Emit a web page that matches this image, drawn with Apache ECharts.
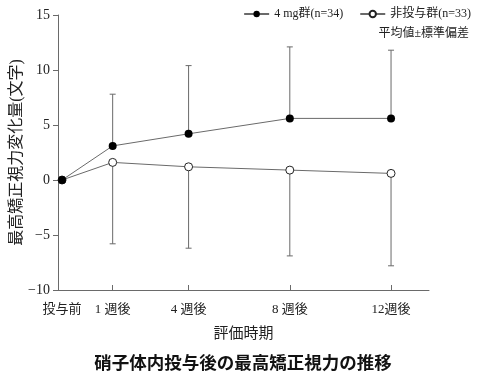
<!DOCTYPE html>
<html><head><meta charset="utf-8">
<script src="https://cdn.jsdelivr.net/npm/echarts@6/dist/echarts.min.js"></script>
<style>html,body{margin:0;padding:0;background:#fff}#c{width:486px;height:374px}</style>
</head><body><div id="c"></div>
<script>
const weeks = [-1, 1, 4, 8, 12];
const weekLabels = ['投与前', '1 週後', '4 週後', '8 週後', '12週後'];
const drugMean = [0, 3.1, 4.2, 5.6, 5.6];
const drugSD = [0, 4.7, 6.2, 6.5, 6.2];
const ctrlMean = [0, 1.6, 1.2, 0.9, 0.6];
const ctrlSD = [0, 7.4, 7.4, 7.8, 8.4];
const yTicks = [-10, -5, 0, 5, 10, 15];
const drugName = '4 mg群(n=34)';
const ctrlName = '非投与群(n=33)';

const FONT = '"Liberation Serif", "Noto Sans CJK JP", serif';
const GRAY = '#6a6a6a';

function pairs(m) { return weeks.map((w, i) => [w, m[i]]); }
function errData(m, s, dir) {
  return weeks.map((w, i) => s[i] ? [w, m[i], m[i] + dir * s[i]] : null).filter(d => d);
}
function errRender(params, api) {
  const x = api.value(0), y0 = api.value(1), y1 = api.value(2);
  const p0 = api.coord([x, y0]), p1 = api.coord([x, y1]);
  const st = { stroke: GRAY, lineWidth: 1, fill: null };
  return { type: 'group', children: [
    { type: 'line', shape: { x1: p0[0], y1: p0[1], x2: p1[0], y2: p1[1] }, style: st },
    { type: 'line', shape: { x1: p1[0] - 3, y1: p1[1], x2: p1[0] + 3, y2: p1[1] }, style: st }
  ]};
}

const chart = echarts.init(document.getElementById('c'), null, { renderer: 'canvas' });
chart.setOption({
  animation: false,
  textStyle: { fontFamily: FONT },
  title: [
    { text: '硝子体内投与後の最高矯正視力の推移', left: 'center', top: 351,
      textStyle: { fontFamily: FONT, fontSize: 17.5, fontWeight: 'bold', color: '#111' } },
    { text: '平均値±標準偏差', right: 12, top: 23,
      textStyle: { fontFamily: FONT, fontSize: 12, fontWeight: 'normal', color: '#222' } }
  ],
  legend: {
    right: 10, top: 3, itemWidth: 25, itemHeight: 8, itemGap: 16,
    textStyle: { fontFamily: FONT, fontSize: 12, color: '#222' },
    data: [drugName, ctrlName]
  },
  grid: { left: 58, right: 57, top: 15, bottom: 84, containLabel: false, outerBoundsMode: 'none' },
  xAxis: {
    type: 'value', min: -1.16, max: 13.5,
    name: '評価時期', nameLocation: 'middle', nameGap: 37, nameMoveOverlap: false,
    nameTextStyle: { fontFamily: FONT, fontSize: 15, color: '#222' },
    axisLine: { onZero: false, lineStyle: { color: GRAY } },
    splitLine: { show: false },
    axisTick: { inside: true, length: 5, lineStyle: { color: GRAY }, customValues: [1, 4, 8, 12] },
    axisLabel: { margin: 13, fontSize: 13, color: '#222', customValues: weeks,
      formatter: v => weekLabels[weeks.indexOf(v)] }
  },
  yAxis: {
    type: 'value', min: -10, max: 15, interval: 5,
    name: '最高矯正視力変化量(文字)', nameLocation: 'middle', nameGap: 33, nameRotate: 90,
    nameMoveOverlap: false,
    nameTextStyle: { fontFamily: FONT, fontSize: 16, color: '#222' },
    axisLine: { show: true, onZero: false, lineStyle: { color: GRAY } },
    splitLine: { show: false },
    axisTick: { show: true, length: 5, lineStyle: { color: GRAY } },
    axisLabel: { margin: 8, fontSize: 14, color: '#222',
      formatter: v => yTicks.includes(v) ? (v < 0 ? '\u2212' + Math.abs(v) : String(v)) : '' }
  },
  series: [
    { type: 'custom', renderItem: errRender, data: errData(drugMean, drugSD, 1), z: 1, silent: true },
    { type: 'custom', renderItem: errRender, data: errData(ctrlMean, ctrlSD, -1), z: 1, silent: true },
    { name: drugName, type: 'line', data: pairs(drugMean), symbol: 'circle', symbolSize: 8, z: 3,
      lineStyle: { color: GRAY, width: 1 }, itemStyle: { color: '#000', borderColor: '#000', borderWidth: 0 } },
    { name: ctrlName, type: 'line', data: pairs(ctrlMean), symbol: 'circle', symbolSize: 8, z: 2,
      lineStyle: { color: GRAY, width: 1 }, itemStyle: { color: '#fff', borderColor: '#222', borderWidth: 1 } }
  ]
});
</script></body></html>
